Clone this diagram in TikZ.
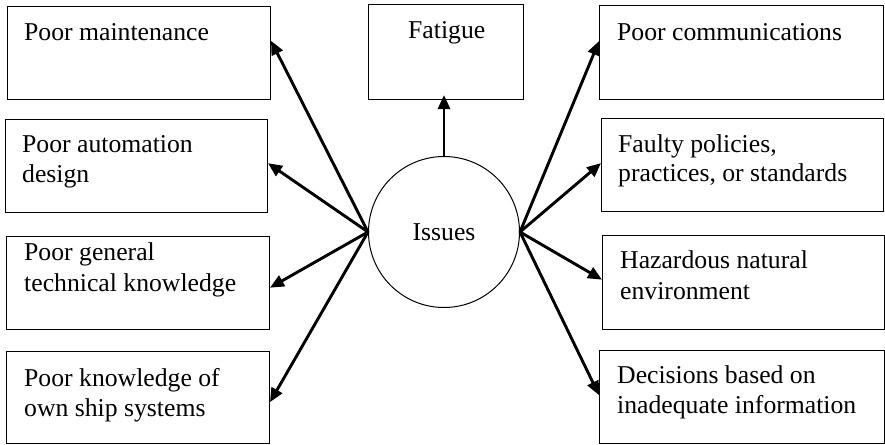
\documentclass[tikz,border=0pt]{standalone}
\usepackage{fontspec}
\setmainfont{Liberation Serif}
\usetikzlibrary{arrows.meta,calc}
\begin{document}
\begin{tikzpicture}[x=1pt,y=-1pt,
  box/.style={draw,line width=1pt,anchor=north west,inner sep=0pt},
  lbl/.style={anchor=base west,inner sep=0pt,font=\fontsize{25.7}{30}\selectfont},
  arr/.style={line width=2.9pt,-{Triangle[length=14pt,width=12pt]}}]
\useasboundingbox (0,0) rectangle (885,444);

% central issue
\node[draw,line width=1pt,circle,minimum size=151pt,inner sep=0pt] (iss) at (444,232) {};
\node[inner sep=0pt,anchor=base,font=\fontsize{25.7}{30}\selectfont] (isst) at (444,240.5) {Issues};

% left column
\node[box,minimum width=263pt,minimum height=93pt] (l1) at (7,6) {};
\node[box,minimum width=262pt,minimum height=93pt] (l2) at (5,119) {};
\node[box,minimum width=263pt,minimum height=93pt] (l3) at (6,236) {};
\node[box,minimum width=263pt,minimum height=92pt] (l4) at (6,351) {};
\node[lbl] (l1a) at (24,40.5) {Poor maintenance};
\node[lbl] (l2a) at (22,152.5) {Poor automation};
\node[lbl] (l2b) at (22,182.5) {design};
\node[lbl] (l3a) at (24,260.5) {Poor general};
\node[lbl] (l3b) at (24,291.5) {technical knowledge};
\node[lbl] (l4a) at (24,386.5) {Poor knowledge of};
\node[lbl] (l4b) at (24,416.5) {own ship systems};

% top
\node[box,minimum width=155pt,minimum height=95pt] (top) at (368,4) {};
\node[lbl] (topa) at (408,38.5) {Fatigue};

% right column
\node[box,minimum width=284pt,minimum height=94pt] (r1) at (599,5) {};
\node[box,minimum width=282pt,minimum height=93pt] (r2) at (601,118) {};
\node[box,minimum width=282pt,minimum height=94pt] (r3) at (602,235) {};
\node[box,minimum width=285pt,minimum height=93pt] (r4) at (599,350) {};
\node[lbl] (r1a) at (617,40.5) {Poor communications};
\node[lbl] (r2a) at (618,152.5) {Faulty policies,};
\node[lbl] (r2b) at (618,181.5) {practices, or standards};
\node[lbl] (r3a) at (620,268.5) {Hazardous natural};
\node[lbl] (r3b) at (620,299.5) {environment};
\node[lbl] (r4a) at (617,383.5) {Decisions based on};
\node[lbl] (r4b) at (617,413.5) {inadequate information};

% connectors
\draw[arr] (iss.west) -- ($(l1.north east)!0.37!(l1.south east)$);
\draw[arr] (iss.west) -- ($(l2.north east)!0.47!(l2.south east)$);
\draw[arr] (iss.west) -- ($(l3.north east)!0.55!(l3.south east)$);
\draw[arr] (iss.west) -- ($(l4.north east)!0.55!(l4.south east)$);
\draw[arr] (iss.north) -- ($(iss.north |- top.south)+(0,-5)$);
\draw[arr] (iss.east) -- ($(r1.north west)!0.38!(r1.south west)$);
\draw[arr] (iss.east) -- ($(r2.north west)!0.48!(r2.south west)$);
\draw[arr] (iss.east) -- ($(r3.north west)!0.47!(r3.south west)$);
\draw[arr] (iss.east) -- ($(r4.north west)!0.48!(r4.south west)$);
\end{tikzpicture}
\end{document}
